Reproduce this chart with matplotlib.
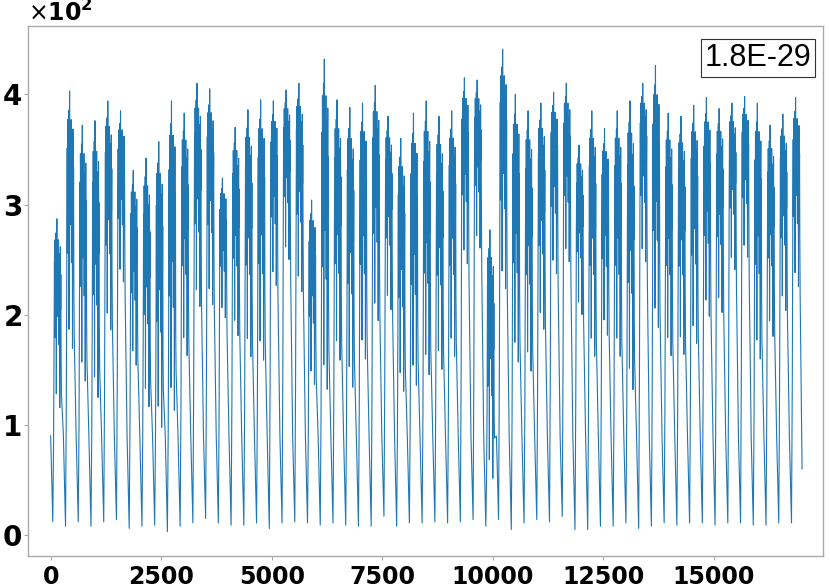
import numpy as np
import matplotlib
matplotlib.use("Agg")
import matplotlib.pyplot as plt
from matplotlib.ticker import MultipleLocator

# ---- data (one entry per day, 288 samples per day) ----
samples_per_day = 288
n_samples = 16992

day_trough = [12, 8, 12, 8, 12, 14, 6, 8, 9, 3, 8, 11, 15, 11, 9, 9, 11, 6, 11, 12,
              11, 9, 11, 9, 8, 8, 17, 8, 11, 11, 12, 11, 12, 14, 8, 14, 5, 11, 14, 12,
              17, 5, 5, 8, 8, 11, 6, 8, 11, 9, 11, 11, 9, 11, 11, 9, 9, 11, 11]
day_low = [160, 230, 200, 190, 240, 270, 200, 175, 165, 186, 220, 260, 260, 230, 230, 220, 220, 270, 290, 270,
           180, 210, 220, 200, 220, 250, 250, 190, 200, 210, 210, 220, 290, 300, 110, 280, 220, 210, 240, 280,
           290, 240, 220, 230, 220, 200, 290, 250, 220, 220, 230, 250, 250, 280, 290, 220, 230, 250, 270]
day_peak = [287, 403, 372, 376, 394, 385, 331, 342, 357, 394, 383, 410, 405, 324, 370, 386, 395, 394, 404, 410,
            304, 432, 395, 388, 392, 408, 380, 360, 383, 394, 380, 385, 415, 413, 277, 441, 400, 385, 392, 402,
            410, 354, 385, 369, 385, 394, 410, 426, 383, 380, 390, 397, 387, 392, 398, 392, 372, 382, 397]
night_level = 90
first_value = 90
last_value = 60

# typical intraday plateau shape (fraction between plateau low and daily peak)
plateau_shape = [0.35, 0.7, 0.15, 0.85, 0.55, 0.75, 0.4, 0.9, -0.25, 0.6, 1.0, 0.5, 0.8, 0.3,
                 0.7, 0.55, 0.85, 0.1, 0.75, 0.45, 0.65, -0.35, 0.5, 0.8, 0.35, 0.6, 0.0]

annotation = "1.8E-29"

# ---- build the series vertices ----
xs, ys = [0], [first_value]
for d in range(len(day_peak)):
    base = d * samples_per_day
    tr, lo, pk = day_trough[d], day_low[d], day_peak[d]
    if d > 0:
        xs.append(base); ys.append(night_level)
    xs.append(base + 48); ys.append(tr)
    xs.append(base + 66); ys.append(tr + 0.5 * (lo - tr))
    xs.append(base + 76); ys.append(lo)
    for k, f in enumerate(plateau_shape):
        xs.append(base + 80 + 6 * k); ys.append(lo + f * (pk - lo))
    xs.append(base + 244); ys.append(lo * 0.8)
xs.append(n_samples - 1); ys.append(last_value)

# ---- figure ----
fig = plt.figure(figsize=(8.3, 5.88), dpi=100)
ax = fig.add_axes([0.0337, 0.0544, 0.9579, 0.9014])
ax.plot(xs, ys, color="#1f77b4", lw=0.8)

ax.set_xlim(-513, 17465)
ax.set_ylim(-19, 462)
ax.xaxis.set_major_locator(MultipleLocator(2500))
ax.yaxis.set_major_locator(MultipleLocator(100))
ax.ticklabel_format(axis="y", style="sci", scilimits=(2, 2), useMathText=True)

for s in ax.spines.values():
    s.set_color("#aaaaaa")
    s.set_linewidth(1.0)
ax.tick_params(axis="both", colors="#aaaaaa", length=3, width=0.8)
ax.tick_params(axis="y", pad=1.5)
for lab in ax.get_xticklabels():
    lab.set_fontsize(17); lab.set_fontweight("bold"); lab.set_color("black")
for lab in ax.get_yticklabels():
    lab.set_fontsize(20); lab.set_fontweight("bold"); lab.set_color("black")
ax.yaxis.get_offset_text().set_fontsize(17)
ax.yaxis.get_offset_text().set_fontweight("bold")
ax.yaxis.get_offset_text().set_color("black")

ax.text(0.985, 0.968, annotation, transform=ax.transAxes, ha="right", va="top",
        fontsize=22, family=["Liberation Sans", "DejaVu Sans"],
        bbox=dict(boxstyle="square,pad=0.12", fc="white", ec="#333333", lw=0.8))

fig.savefig("out.png", dpi=100)
